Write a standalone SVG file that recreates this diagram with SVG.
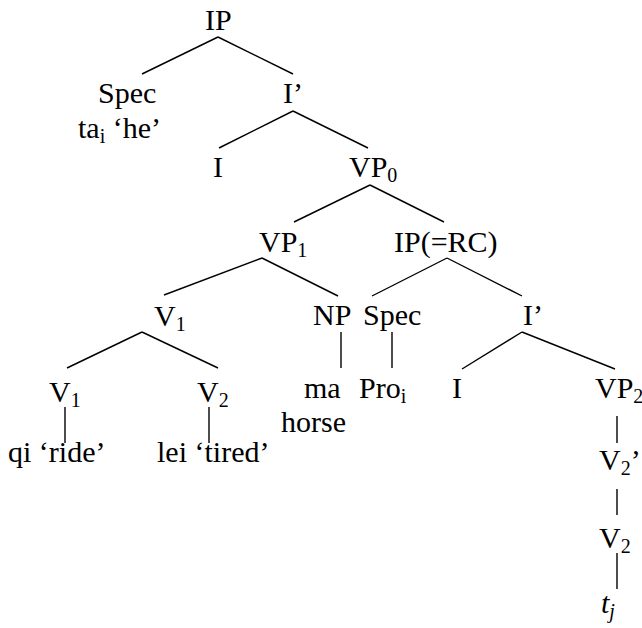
<svg xmlns="http://www.w3.org/2000/svg" width="642" height="628" viewBox="0 0 642 628">
<style>
text{font-family:'Liberation Serif','Times New Roman',serif;font-size:30px;fill:#000}
.s{font-size:20px}
line{stroke:#000;stroke-width:1.4}
</style>
<rect width="642" height="628" fill="#fff"/>
<g id="connectors">
<line x1="218" y1="37" x2="142" y2="74"/>
<line x1="218" y1="37" x2="293" y2="74"/>
<line x1="293" y1="111" x2="219" y2="148"/>
<line x1="293" y1="111" x2="368" y2="148"/>
<line x1="370" y1="185" x2="294" y2="222"/>
<line x1="370" y1="185" x2="444" y2="222"/>
<line x1="262" y1="258" x2="164" y2="295"/>
<line x1="262" y1="258" x2="338" y2="296"/>
<line x1="447" y1="258" x2="372" y2="296"/>
<line x1="447" y1="258" x2="522" y2="296"/>
<line x1="142" y1="332" x2="67" y2="368"/>
<line x1="142" y1="332" x2="218" y2="368"/>
<line x1="341" y1="332" x2="341" y2="368"/>
<line x1="392" y1="332" x2="392" y2="368"/>
<line x1="522" y1="332" x2="462" y2="369"/>
<line x1="522" y1="332" x2="615" y2="369"/>
<line x1="65" y1="407" x2="65" y2="443"/>
<line x1="209" y1="407" x2="209" y2="443"/>
<line x1="617" y1="416" x2="617" y2="443"/>
<line x1="617" y1="489" x2="617" y2="515"/>
<line x1="617" y1="553" x2="617" y2="589"/>
</g>
<g id="n-ip"><text x="205" y="30">IP</text></g>
<g id="n-spec"><text x="98" y="103">Spec</text><text x="78" y="138">ta<tspan class="s" dy="5">i</tspan><tspan dy="-5"> ‘he’</tspan></text></g>
<g id="n-ibar"><text x="283" y="103">I’</text></g>
<g id="n-i"><text x="213" y="177">I</text></g>
<g id="n-vp0"><text x="349" y="177">VP<tspan class="s" dy="5">0</tspan></text></g>
<g id="n-vp1"><text x="259" y="252">VP<tspan class="s" dy="5">1</tspan></text></g>
<g id="n-iprc"><text x="394" y="252">IP(=RC)</text></g>
<g id="n-v1a"><text x="154" y="326">V<tspan class="s" dy="5">1</tspan></text></g>
<g id="n-np"><text x="313" y="325">NP</text></g>
<g id="n-spec2"><text x="363" y="325">Spec</text></g>
<g id="n-ibar2"><text x="523" y="325">I’</text></g>
<g id="n-v1b"><text x="49" y="402">V<tspan class="s" dy="5">1</tspan></text></g>
<g id="n-v2a"><text x="197" y="402">V<tspan class="s" dy="5">2</tspan></text></g>
<g id="n-ma"><text x="304" y="398">ma</text><text x="281" y="432">horse</text></g>
<g id="n-pro"><text x="359" y="398">Pro<tspan class="s" dy="5">i</tspan></text></g>
<g id="n-i2"><text x="452" y="398">I</text></g>
<g id="n-vp2"><text x="595" y="398">VP<tspan class="s" dy="5">2</tspan></text></g>
<g id="n-qi"><text x="8" y="462">qi ‘ride’</text></g>
<g id="n-lei"><text x="157" y="462">lei ‘tired’</text></g>
<g id="n-v2bar"><text x="599" y="470">V<tspan class="s" dy="5">2</tspan><tspan dy="-5">’</tspan></text></g>
<g id="n-v2b"><text x="599" y="548">V<tspan class="s" dy="5">2</tspan></text></g>
<g id="n-t"><text x="601" y="613" font-style="italic">t<tspan class="s" dy="5">j</tspan></text></g>
</svg>
